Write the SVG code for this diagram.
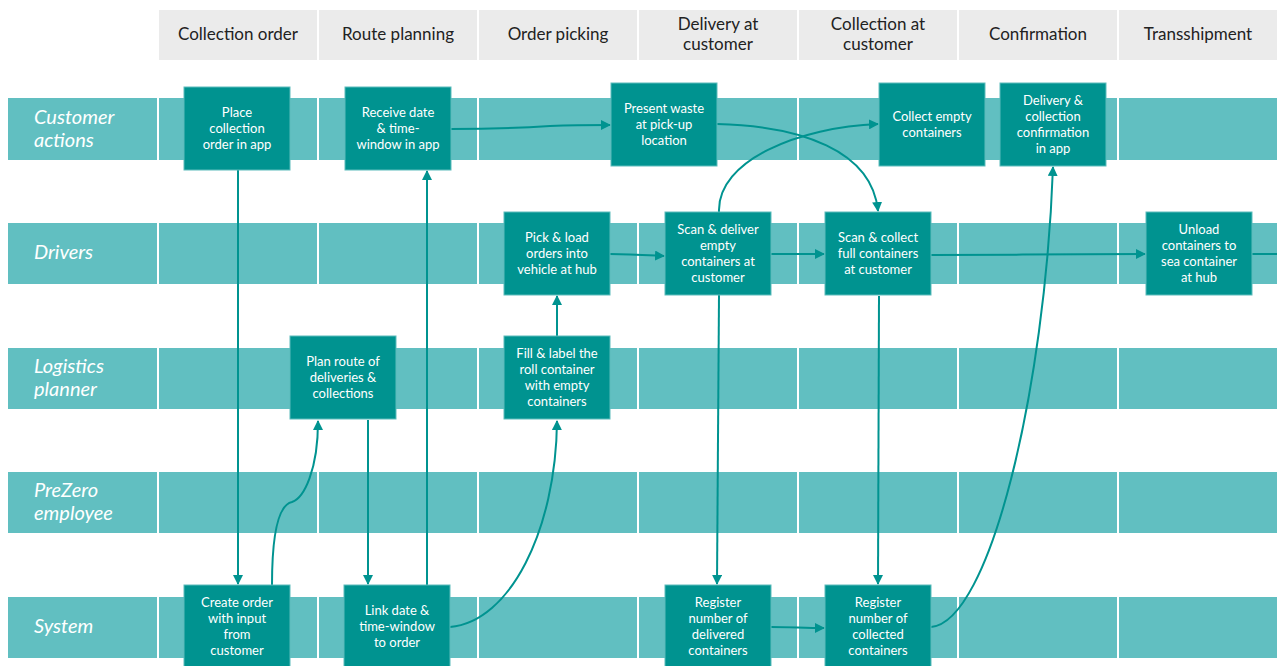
<svg xmlns="http://www.w3.org/2000/svg" width="1277" height="666" viewBox="0 0 1277 666">
  <style>
    .hdr { fill: #ebebeb; }
    .hdr-t { font-family: Lato, "Open Sans", sans-serif; font-size: 17px; fill: #222; text-anchor: middle; }
    .lane { fill: #61bfc1; }
    .lane-t { font-family: Lato, "Open Sans", sans-serif; font-size: 20px; font-style: italic; fill: #ffffff; }
    .box { fill: #009390; stroke: #5cbcbc; stroke-width: 1; }
    .box-t { font-family: Lato, "Open Sans", sans-serif; font-size: 13px; fill: #ffffff; text-anchor: middle; }
    .edge { fill: none; stroke: #009390; stroke-width: 2; }
  </style>
  <defs>
    <marker id="arr" viewBox="0 0 10 10" refX="9" refY="5" markerWidth="5" markerHeight="5" orient="auto" markerUnits="strokeWidth">
      <path d="M0,0 L10,5 L0,10 z" fill="#009390"/>
    </marker>
  </defs>
  <rect width="1277" height="666" fill="#ffffff"/>

  <!-- phase header -->
  <g id="phases">
    <rect class="hdr" x="159" y="10" width="158" height="50"/>
    <rect class="hdr" x="319" y="10" width="158" height="50"/>
    <rect class="hdr" x="479" y="10" width="158" height="50"/>
    <rect class="hdr" x="639" y="10" width="158" height="50"/>
    <rect class="hdr" x="799" y="10" width="158" height="50"/>
    <rect class="hdr" x="959" y="10" width="158" height="50"/>
    <rect class="hdr" x="1119" y="10" width="158" height="50"/>
    <text class="hdr-t" x="238" y="40">Collection order</text>
    <text class="hdr-t" x="398" y="40">Route planning</text>
    <text class="hdr-t" x="558" y="40">Order picking</text>
    <text class="hdr-t" x="718" y="30">Delivery at</text>
    <text class="hdr-t" x="718" y="50">customer</text>
    <text class="hdr-t" x="878" y="30">Collection at</text>
    <text class="hdr-t" x="878" y="50">customer</text>
    <text class="hdr-t" x="1038" y="40">Confirmation</text>
    <text class="hdr-t" x="1198" y="40">Transshipment</text>
  </g>

  <!-- swimlanes -->
  <g id="lane-customer">
    <rect class="lane" x="8" y="98" width="149" height="62"/>
    <rect class="lane" x="159" y="98" width="158" height="62"/>
    <rect class="lane" x="319" y="98" width="158" height="62"/>
    <rect class="lane" x="479" y="98" width="158" height="62"/>
    <rect class="lane" x="639" y="98" width="158" height="62"/>
    <rect class="lane" x="799" y="98" width="158" height="62"/>
    <rect class="lane" x="959" y="98" width="158" height="62"/>
    <rect class="lane" x="1119" y="98" width="158" height="62"/>
    <text class="lane-t" x="34" y="124">Customer</text>
    <text class="lane-t" x="34" y="147">actions</text>
  </g>
  <g id="lane-drivers">
    <rect class="lane" x="8" y="223" width="149" height="61"/>
    <rect class="lane" x="159" y="223" width="158" height="61"/>
    <rect class="lane" x="319" y="223" width="158" height="61"/>
    <rect class="lane" x="479" y="223" width="158" height="61"/>
    <rect class="lane" x="639" y="223" width="158" height="61"/>
    <rect class="lane" x="799" y="223" width="158" height="61"/>
    <rect class="lane" x="959" y="223" width="158" height="61"/>
    <rect class="lane" x="1119" y="223" width="158" height="61"/>
    <text class="lane-t" x="34" y="259">Drivers</text>
  </g>
  <g id="lane-planner">
    <rect class="lane" x="8" y="348" width="149" height="61"/>
    <rect class="lane" x="159" y="348" width="158" height="61"/>
    <rect class="lane" x="319" y="348" width="158" height="61"/>
    <rect class="lane" x="479" y="348" width="158" height="61"/>
    <rect class="lane" x="639" y="348" width="158" height="61"/>
    <rect class="lane" x="799" y="348" width="158" height="61"/>
    <rect class="lane" x="959" y="348" width="158" height="61"/>
    <rect class="lane" x="1119" y="348" width="158" height="61"/>
    <text class="lane-t" x="34" y="373">Logistics</text>
    <text class="lane-t" x="34" y="396">planner</text>
  </g>
  <g id="lane-employee">
    <rect class="lane" x="8" y="472" width="149" height="61"/>
    <rect class="lane" x="159" y="472" width="158" height="61"/>
    <rect class="lane" x="319" y="472" width="158" height="61"/>
    <rect class="lane" x="479" y="472" width="158" height="61"/>
    <rect class="lane" x="639" y="472" width="158" height="61"/>
    <rect class="lane" x="799" y="472" width="158" height="61"/>
    <rect class="lane" x="959" y="472" width="158" height="61"/>
    <rect class="lane" x="1119" y="472" width="158" height="61"/>
    <text class="lane-t" x="34" y="497">PreZero</text>
    <text class="lane-t" x="34" y="520">employee</text>
  </g>
  <g id="lane-system">
    <rect class="lane" x="8" y="597" width="149" height="61"/>
    <rect class="lane" x="159" y="597" width="158" height="61"/>
    <rect class="lane" x="319" y="597" width="158" height="61"/>
    <rect class="lane" x="479" y="597" width="158" height="61"/>
    <rect class="lane" x="639" y="597" width="158" height="61"/>
    <rect class="lane" x="799" y="597" width="158" height="61"/>
    <rect class="lane" x="959" y="597" width="158" height="61"/>
    <rect class="lane" x="1119" y="597" width="158" height="61"/>
    <text class="lane-t" x="34" y="633">System</text>
  </g>

  <!-- connectors -->
  <g id="connectors">
    <path class="edge" d="M238,170 L238,584" marker-end="url(#arr)"/>
    <path class="edge" d="M272,585 C272,535 278,505 292,502 C304,498 318,470 318,421" marker-end="url(#arr)"/>
    <path class="edge" d="M368,420 L368,584" marker-end="url(#arr)"/>
    <path class="edge" d="M427,585 L427,171" marker-end="url(#arr)"/>
    <path class="edge" d="M451,129 C500,129 520,128 550,126 C575,125 590,125 610,125" marker-end="url(#arr)"/>
    <path class="edge" d="M450,627 C510,622 556,530 557,421" marker-end="url(#arr)"/>
    <path class="edge" d="M557,336 L557,296" marker-end="url(#arr)"/>
    <path class="edge" d="M610,254 C630,254 645,255 664,256" marker-end="url(#arr)"/>
    <path class="edge" d="M771,254 L824,254" marker-end="url(#arr)"/>
    <path class="edge" d="M931,255 C1000,255 1080,254 1145,254" marker-end="url(#arr)"/>
    <path class="edge" d="M1252,254 L1277,254"/>
    <path class="edge" d="M717,124 C800,126 872,150 878,211" marker-end="url(#arr)"/>
    <path class="edge" d="M719,212 C717,160 800,127 878,124" marker-end="url(#arr)"/>
    <path class="edge" d="M719,295 C718,400 718,500 717,584" marker-end="url(#arr)"/>
    <path class="edge" d="M879,296 C878,400 878,500 878,584" marker-end="url(#arr)"/>
    <path class="edge" d="M771,627 C790,627 805,628 824,628" marker-end="url(#arr)"/>
    <path class="edge" d="M931,627 C990,622 1045,390 1053,167" marker-end="url(#arr)"/>
  </g>

  <!-- activity nodes -->
  <g id="n-place-order">
    <rect class="box" x="184" y="87" width="106" height="83"/>
    <text class="box-t" x="237" y="117">Place</text>
    <text class="box-t" x="237" y="133">collection</text>
    <text class="box-t" x="237" y="149">order in app</text>
  </g>
  <g id="n-receive-date">
    <rect class="box" x="345" y="87" width="106" height="83"/>
    <text class="box-t" x="398" y="117">Receive date</text>
    <text class="box-t" x="398" y="133">&amp; time-</text>
    <text class="box-t" x="398" y="149">window in app</text>
  </g>
  <g id="n-present-waste">
    <rect class="box" x="611" y="83" width="106" height="83"/>
    <text class="box-t" x="664" y="113">Present waste</text>
    <text class="box-t" x="664" y="129">at pick-up</text>
    <text class="box-t" x="664" y="145">location</text>
  </g>
  <g id="n-collect-empty">
    <rect class="box" x="879" y="83" width="106" height="83"/>
    <text class="box-t" x="932" y="121">Collect empty</text>
    <text class="box-t" x="932" y="137">containers</text>
  </g>
  <g id="n-confirmation">
    <rect class="box" x="1000" y="83" width="106" height="83"/>
    <text class="box-t" x="1053" y="105">Delivery &amp;</text>
    <text class="box-t" x="1053" y="121">collection</text>
    <text class="box-t" x="1053" y="137">confirmation</text>
    <text class="box-t" x="1053" y="153">in app</text>
  </g>
  <g id="n-pick-load">
    <rect class="box" x="504" y="212" width="106" height="83"/>
    <text class="box-t" x="557" y="242">Pick &amp; load</text>
    <text class="box-t" x="557" y="258">orders into</text>
    <text class="box-t" x="557" y="274">vehicle at hub</text>
  </g>
  <g id="n-scan-deliver">
    <rect class="box" x="665" y="212" width="106" height="83"/>
    <text class="box-t" x="718" y="234">Scan &amp; deliver</text>
    <text class="box-t" x="718" y="250">empty</text>
    <text class="box-t" x="718" y="266">containers at</text>
    <text class="box-t" x="718" y="282">customer</text>
  </g>
  <g id="n-scan-collect">
    <rect class="box" x="825" y="212" width="106" height="83"/>
    <text class="box-t" x="878" y="242">Scan &amp; collect</text>
    <text class="box-t" x="878" y="258">full containers</text>
    <text class="box-t" x="878" y="274">at customer</text>
  </g>
  <g id="n-unload">
    <rect class="box" x="1146" y="212" width="106" height="83"/>
    <text class="box-t" x="1199" y="234">Unload</text>
    <text class="box-t" x="1199" y="250">containers to</text>
    <text class="box-t" x="1199" y="266">sea container</text>
    <text class="box-t" x="1199" y="282">at hub</text>
  </g>
  <g id="n-plan-route">
    <rect class="box" x="290" y="336" width="106" height="83"/>
    <text class="box-t" x="343" y="366">Plan route of</text>
    <text class="box-t" x="343" y="382">deliveries &amp;</text>
    <text class="box-t" x="343" y="398">collections</text>
  </g>
  <g id="n-fill-label">
    <rect class="box" x="504" y="336" width="106" height="83"/>
    <text class="box-t" x="557" y="358">Fill &amp; label the</text>
    <text class="box-t" x="557" y="374">roll container</text>
    <text class="box-t" x="557" y="390">with empty</text>
    <text class="box-t" x="557" y="406">containers</text>
  </g>
  <g id="n-create-order">
    <rect class="box" x="184" y="585" width="106" height="90"/>
    <text class="box-t" x="237" y="607">Create order</text>
    <text class="box-t" x="237" y="623">with input</text>
    <text class="box-t" x="237" y="639">from</text>
    <text class="box-t" x="237" y="655">customer</text>
  </g>
  <g id="n-link-date">
    <rect class="box" x="344" y="585" width="106" height="90"/>
    <text class="box-t" x="397" y="615">Link date &amp;</text>
    <text class="box-t" x="397" y="631">time-window</text>
    <text class="box-t" x="397" y="647">to order</text>
  </g>
  <g id="n-reg-delivered">
    <rect class="box" x="665" y="585" width="106" height="90"/>
    <text class="box-t" x="718" y="607">Register</text>
    <text class="box-t" x="718" y="623">number of</text>
    <text class="box-t" x="718" y="639">delivered</text>
    <text class="box-t" x="718" y="655">containers</text>
  </g>
  <g id="n-reg-collected">
    <rect class="box" x="825" y="585" width="106" height="90"/>
    <text class="box-t" x="878" y="607">Register</text>
    <text class="box-t" x="878" y="623">number of</text>
    <text class="box-t" x="878" y="639">collected</text>
    <text class="box-t" x="878" y="655">containers</text>
  </g>
</svg>
